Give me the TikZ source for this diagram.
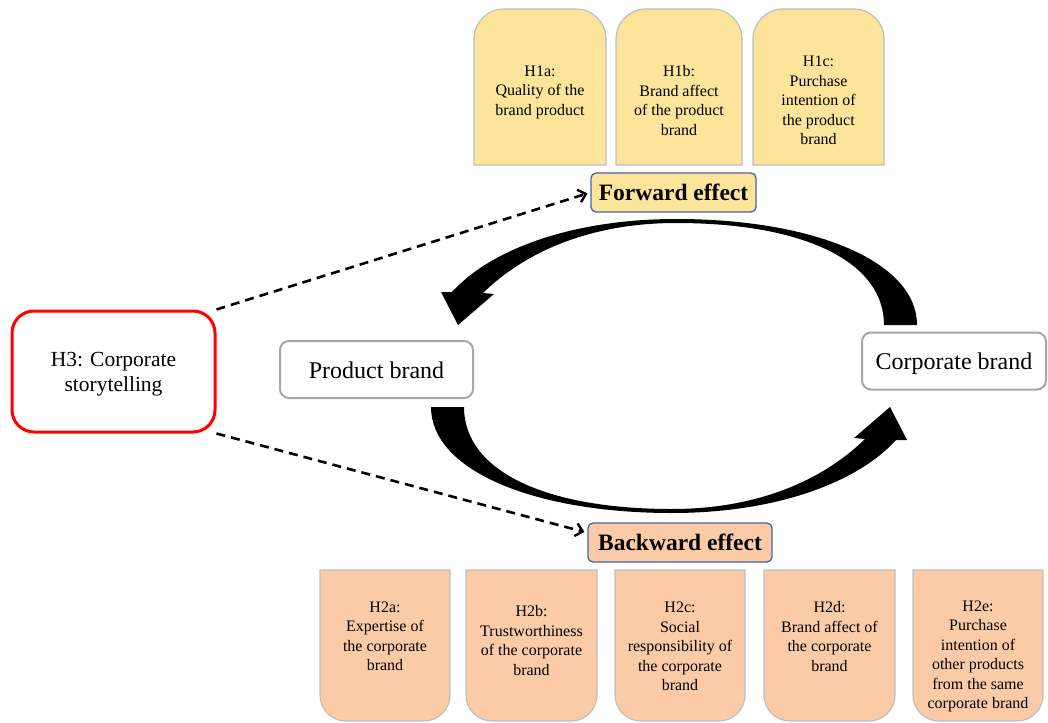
\documentclass[tikz,border=0pt]{standalone}
\usepackage{fontspec}
\setmainfont{Liberation Serif}
\usetikzlibrary{arrows.meta}
\definecolor{topfill}{RGB}{252,229,154}
\definecolor{botfill}{RGB}{251,203,168}
\definecolor{boxgray}{RGB}{190,190,190}
\definecolor{effblue}{RGB}{70,100,160}
\definecolor{brandgray}{RGB}{166,166,166}
\newcommand\topshape[4]{\filldraw[hbox] (#1,#4) -- (#1,#2+30) arc[start angle=180,end angle=270,radius=30] -- (#3-30,#2) arc[start angle=270,end angle=360,radius=30] -- (#3,#4) -- cycle;}
\newcommand\botshape[4]{\filldraw[lbox] (#1,#2) -- (#1,#4-26) arc[start angle=180,end angle=90,radius=26] -- (#3-26,#4) arc[start angle=90,end angle=0,radius=26] -- (#3,#2) -- cycle;}
\begin{document}
\begin{tikzpicture}[x=1pt,y=-1pt,
  hbox/.style={fill=topfill,draw=boxgray,line width=1.2pt},
  lbox/.style={fill=botfill,draw=boxgray,line width=1.2pt},
  smalltxt/.style={align=center,font=\fontsize{16}{19.5}\selectfont,inner sep=0pt},
  brand/.style={draw=brandgray,line width=2pt,rounded corners=9pt,fill=white,font=\fontsize{24}{28}\selectfont,minimum height=57pt,inner sep=0pt,text height=21pt,text depth=4pt},
  effect/.style={draw=effblue,line width=1.3pt,rounded corners=5pt,font=\bfseries\fontsize{23.5}{28}\selectfont,minimum height=39pt,inner sep=0pt},
  story/.style={draw=red,line width=3pt,rounded corners=22pt,fill=white,minimum width=203pt,minimum height=121pt,inner sep=0pt},
  storytxt/.style={align=center,font=\fontsize{21.5}{25}\selectfont,inner sep=0pt},
  dasharrow/.style={line width=2.6pt,dash pattern=on 9pt off 6pt,-{Straight Barb[length=7pt,width=13pt,line width=2.4pt]}},
  bigarrow/.style={fill=black}
]
\useasboundingbox (0,0) rectangle (1048,722);
% top boxes
\topshape{474}{9}{606}{165}
\topshape{616}{9}{742}{165}
\topshape{753}{9}{884}{165}
\node[smalltxt] (h1a) at (540,92) {H1a:\\Quality of the\\brand product};
\node[smalltxt] (h1b) at (679,100.5) {H1b:\\Brand affect\\of the product\\brand};
\node[smalltxt] (h1c) at (818.5,100.5) {H1c:\\Purchase\\intention of\\the product\\brand};
% bottom boxes
\botshape{320}{570}{450}{721}
\botshape{466}{570}{597}{721}
\botshape{615}{570}{745}{721}
\botshape{764}{570}{895}{721}
\botshape{913}{570}{1043}{721}
\node[smalltxt] (h2a) at (385,636.5) {H2a:\\Expertise of\\the corporate\\brand};
\node[smalltxt] (h2b) at (531.5,640.5) {H2b:\\Trustworthiness\\of the corporate\\brand};
\node[smalltxt] (h2c) at (680,646.5) {H2c:\\Social\\responsibility of\\the corporate\\brand};
\node[smalltxt] (h2d) at (829.5,636.5) {H2d:\\Brand affect of\\the corporate\\brand};
\node[smalltxt] (h2e) at (978,656.5) {H2e:\\Purchase\\intention of\\other products\\from the same\\corporate brand};
% big curved arrows
\fill[bigarrow] (917,325) .. controls (917,262) and (815,219) .. (676,219) .. controls (575,219) and (492,248) .. (452,292) -- (441,292) -- (458,325) -- (494,294) -- (483,293) .. controls (525,252) and (590,223) .. (676,223) .. controls (805,223) and (884,262) .. (884,325) -- cycle;
\fill[bigarrow,rotate around={180:(674,366)}] (917,325) .. controls (917,262) and (815,219) .. (676,219) .. controls (575,219) and (492,248) .. (452,292) -- (441,292) -- (458,325) -- (494,294) -- (483,293) .. controls (525,252) and (590,223) .. (676,223) .. controls (805,223) and (884,262) .. (884,325) -- cycle;
% main nodes
\node[story] (h3) at (113.5,371.5) {};
\node[storytxt] (h3t) at (113.5,374) {H3: Corporate\\storytelling};
\node[brand,minimum width=193pt] (pb) at (376.5,369.5) {Product brand};
\node[brand,minimum width=184pt] (cb) at (954,361) {Corporate brand};
\node[effect,fill=topfill,minimum width=165pt] (fwd) at (673.5,192.5) {Forward effect};
\node[effect,fill=botfill,minimum width=184pt] (bwd) at (680,542.5) {Backward effect};
% dashed arrows
\draw[dasharrow,shorten >=3pt] (h3.north east) -- (fwd.west);
\draw[dasharrow,shorten >=3pt] (h3.south east) -- (bwd.174);
\end{tikzpicture}
\end{document}
